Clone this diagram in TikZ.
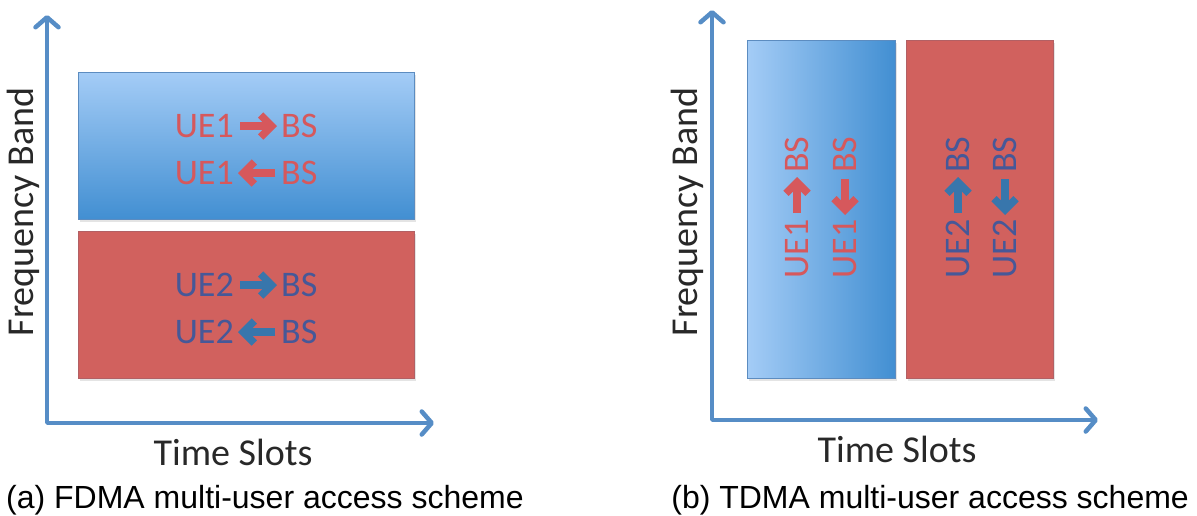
\documentclass[tikz,border=0pt]{standalone}
\usepackage{fontspec}
\setmainfont{Carlito}
\newfontfamily\capfont{Liberation Sans}
\usetikzlibrary{arrows.meta}

\definecolor{axisblue}{RGB}{86,141,198}
\definecolor{lightblue}{RGB}{164,204,246}
\definecolor{deepblue}{RGB}{66,143,210}
\definecolor{blueline}{RGB}{92,140,192}
\definecolor{slotred}{RGB}{209,97,94}
\definecolor{slotredline}{RGB}{178,96,100}
\definecolor{labred}{RGB}{214,88,92}
\definecolor{labnavy}{RGB}{70,88,152}
\definecolor{arrnavy}{RGB}{56,118,172}
\definecolor{axistext}{RGB}{40,40,40}

\begin{document}
\begin{tikzpicture}[x=1pt,y=-1pt,
  axistip/.tip={Straight Barb[length=10pt,width=23pt,line width=4.5pt,line cap=round,line join=round]},
  axisline/.style={draw=axisblue, line width=3.5pt, line join=round, line cap=round, axistip-axistip},
  axislabel/.style={font=\fontsize{38}{40}\selectfont, text=axistext, inner sep=0pt},
  caption/.style={font=\capfont\fontsize{32}{34}\selectfont, text=black, inner sep=0pt},
  uetext/.style={font=\fontsize{36}{38}\selectfont, inner sep=0pt},
  redtxt/.style={uetext, text=labred},
  navytxt/.style={uetext, text=labnavy},
  blockarrow/.style={line width=7.5pt, shorten <=6pt, shorten >=4pt,
    -{Straight Barb[length=11pt,width=22pt,line join=miter,line cap=butt]}},
  shadowbox/.style={fill=black!30, opacity=0.35},
]
\useasboundingbox (0,0) rectangle (1197,515);

% ---------- (a) FDMA ----------
\coordinate (yA) at (47,15);
\coordinate (xA) at (434,423);
\draw[axisline] (yA) |- (xA);

\fill[shadowbox] (80,75) rectangle (416,222);
\shade[top color=lightblue, bottom color=deepblue, draw=blueline, line width=0.8pt]
  (78,72) rectangle (414,219);
\fill[shadowbox] (80,234) rectangle (416,381);
\fill[slotred, draw=slotredline, line width=0.8pt] (78,231) rectangle (414,378);

\node[axislabel, rotate=90] (fbA) at (23,212) {Frequency Band};
\node[axislabel] (tsA) at (233,452) {Time Slots};

% UE1 rows
\node[redtxt, anchor=east] (a1u) at (234,126) {UE1};
\node[redtxt, anchor=west] (a1b) at (281,126) {BS};
\draw[blockarrow, labred] (a1u.east) -- (a1b.west);
\node[redtxt, anchor=east] (a2u) at (234,173) {UE1};
\node[redtxt, anchor=west] (a2b) at (281,173) {BS};
\draw[blockarrow, labred] (a2b.west) -- (a2u.east);
% UE2 rows
\node[navytxt, anchor=east] (a3u) at (234,285) {UE2};
\node[navytxt, anchor=west] (a3b) at (281,285) {BS};
\draw[blockarrow, arrnavy] (a3u.east) -- (a3b.west);
\node[navytxt, anchor=east] (a4u) at (234,332) {UE2};
\node[navytxt, anchor=west] (a4b) at (281,332) {BS};
\draw[blockarrow, arrnavy] (a4b.west) -- (a4u.east);

\node[caption, anchor=base west] (capA) at (6,508) {(a) FDMA multi-user access scheme};

% ---------- (b) TDMA ----------
\coordinate (yB) at (712,10);
\coordinate (xB) at (1098,420);
\draw[axisline] (yB) |- (xB);

\fill[shadowbox] (749,43) rectangle (897,381);
\shade[left color=lightblue, right color=deepblue, draw=blueline, line width=0.8pt]
  (747,40) rectangle (895,378);
\fill[shadowbox] (908,43) rectangle (1055,381);
\fill[slotred, draw=slotredline, line width=0.8pt] (906,40) rectangle (1053,378);

\node[axislabel, rotate=90] (fbB) at (687,212) {Frequency Band};
\node[axislabel] (tsB) at (897,449) {Time Slots};

% UE1 columns
\node[redtxt, rotate=90, anchor=east] (b1u) at (797,219) {UE1};
\node[redtxt, rotate=90, anchor=west] (b1b) at (797,173) {BS};
\draw[blockarrow, labred] (b1u.east) -- (b1b.west);
\node[redtxt, rotate=90, anchor=east] (b2u) at (845,219) {UE1};
\node[redtxt, rotate=90, anchor=west] (b2b) at (845,173) {BS};
\draw[blockarrow, labred] (b2b.west) -- (b2u.east);
% UE2 columns
\node[navytxt, rotate=90, anchor=east] (b3u) at (958,219) {UE2};
\node[navytxt, rotate=90, anchor=west] (b3b) at (958,173) {BS};
\draw[blockarrow, arrnavy] (b3u.east) -- (b3b.west);
\node[navytxt, rotate=90, anchor=east] (b4u) at (1005,219) {UE2};
\node[navytxt, rotate=90, anchor=west] (b4b) at (1005,173) {BS};
\draw[blockarrow, arrnavy] (b4b.west) -- (b4u.east);

\node[caption, anchor=base east] (capB) at (1189,508) {(b) TDMA multi-user access scheme};
\end{tikzpicture}
\end{document}
